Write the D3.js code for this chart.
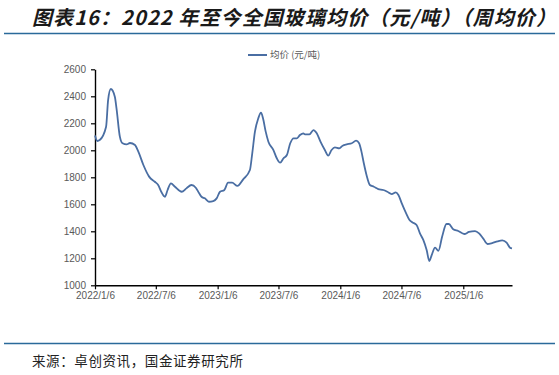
<!DOCTYPE html>
<html>
<head>
<meta charset="utf-8">
<script src="https://cdn.jsdelivr.net/npm/d3@7"></script>
<style>
  body { margin: 0; background: #fff; }
  svg { display: block; }
</style>
</head>
<body>
<div id="chartDiv"></div>
<script>
var width = 559;
var height = 375;

// weekly glass price (yuan/ton)
var dates = [
  "2022-01-06","2022-01-13","2022-01-20","2022-02-08","2022-02-14","2022-02-22","2022-03-06","2022-03-11",
  "2022-03-21","2022-03-29","2022-04-10","2022-04-20","2022-05-05","2022-05-15","2022-05-30","2022-06-16",
  "2022-07-03","2022-07-13","2022-07-23","2022-08-02","2022-08-10","2022-08-20","2022-09-01","2022-09-21",
  "2022-10-05","2022-10-20","2022-11-02","2022-11-12","2022-11-19","2022-11-29","2022-12-11","2022-12-24",
  "2023-01-03","2023-01-13","2023-01-26","2023-02-06","2023-02-18","2023-03-06","2023-03-23","2023-04-12",
  "2023-04-19","2023-04-27","2023-05-07","2023-05-15","2023-05-21","2023-05-29","2023-06-06","2023-06-21",
  "2023-07-01","2023-07-11","2023-07-21","2023-07-31","2023-08-10","2023-08-20","2023-08-30","2023-09-08",
  "2023-09-18","2023-09-23","2023-10-06","2023-10-18","2023-10-28","2023-11-08","2023-11-21","2023-12-01",
  "2023-12-11","2023-12-21","2024-01-03","2024-01-13","2024-01-25","2024-02-09","2024-02-22","2024-03-02",
  "2024-03-09","2024-03-16","2024-03-24","2024-04-03","2024-04-15","2024-04-28","2024-05-13","2024-05-25",
  "2024-06-07","2024-06-19","2024-06-27","2024-07-07","2024-07-20","2024-07-30","2024-08-07","2024-08-20",
  "2024-08-30","2024-09-09","2024-09-19","2024-09-27","2024-10-04","2024-10-14","2024-10-24","2024-11-04",
  "2024-11-17","2024-11-24","2024-12-07","2024-12-22","2025-01-09","2025-01-23","2025-02-10","2025-02-22",
  "2025-03-06","2025-03-19","2025-04-02","2025-04-18","2025-05-02","2025-05-15","2025-05-25","2025-05-31"
];
var prices = [
  2110,2069,2076,2175,2372,2454,2397,2311,
  2101,2052,2044,2054,2039,1990,1891,1805,
  1767,1743,1689,1656,1706,1755,1730,1693,
  1718,1743,1723,1681,1656,1644,1619,1624,
  1644,1693,1706,1760,1760,1736,1785,1854,
  1978,2138,2237,2279,2237,2138,2064,2002,
  1941,1908,1941,1965,2052,2089,2089,2113,
  2126,2118,2118,2150,2126,2064,2002,1960,
  2002,2022,2015,2034,2044,2052,2071,2052,
  1990,1904,1817,1743,1730,1713,1706,1693,
  1676,1689,1669,1607,1533,1484,1467,1447,
  1385,1336,1261,1180,1224,1279,1256,1360,
  1454,1454,1415,1402,1380,1395,1402,1385,
  1348,1306,1313,1326,1333,1316,1279,1274
];
var xTicks = ["2022-01-06","2022-07-06","2023-01-06","2023-07-06","2024-01-06","2024-07-06","2025-01-06"];
var yTicks = [1000,1200,1400,1600,1800,2000,2200,2400,2600];

var titleText = "图表16：2022 年至今全国玻璃均价（元/吨）（周均价）";
var legendText = "均价 (元/吨)";
var sourceText = "来源：卓创资讯，国金证券研究所";

var parse = d3.timeParse("%Y-%m-%d");
var fmt = d3.timeFormat("%Y/%-m/%-d");
var data = dates.map((d, i) => ({date: parse(d), value: prices[i]}));

var lineColor = "#4a6ea3";
var ruleColor = "#2a6a9a";
var tickColor = "#595959";

var svg = d3.select("#chartDiv")
  .append("svg")
    .attr("width", width)
    .attr("height", height)
    .attr("viewBox", [0, 0, width, height]);

svg.append("rect").attr("width", width).attr("height", height).attr("fill", "#fff");

// title + rules
svg.append("text")
    .attr("x", 32)
    .attr("y", 25)
    .attr("font-family", "'Noto Sans CJK SC', sans-serif")
    .attr("font-size", 20)
    .attr("letter-spacing", 1.1)
    .attr("font-weight", "bold")
    .attr("font-style", "italic")
    .attr("fill", "#1a1a1a")
    .text(titleText);

svg.append("line")
    .attr("x1", 4).attr("x2", 555)
    .attr("y1", 33.5).attr("y2", 33.5)
    .attr("stroke", ruleColor).attr("stroke-width", 1.5);

svg.append("line")
    .attr("x1", 4).attr("x2", 555)
    .attr("y1", 343.5).attr("y2", 343.5)
    .attr("stroke", ruleColor).attr("stroke-width", 1.5);

svg.append("text")
    .attr("x", 32)
    .attr("y", 366)
    .attr("font-family", "'Noto Sans CJK SC', serif")
    .attr("font-size", 13.5)
    .attr("letter-spacing", 0.6)
    .attr("fill", "#222")
    .text(sourceText);

// scales
var x = d3.scaleTime()
    .domain([parse("2022-01-06"), d3.max(data, d => d.date)])
    .range([95, 512]);

var y = d3.scaleLinear()
    .domain([1000, 2600])
    .range([285.3, 69.3]);

var xAxis = svg.append("g")
    .attr("transform", `translate(0,${y(1000)})`)
    .call(d3.axisBottom(x)
      .tickValues(xTicks.map(parse))
      .tickFormat(fmt)
      .tickSize(4)
      .tickSizeOuter(0)
      .tickPadding(3));

var yAxis = svg.append("g")
    .attr("transform", `translate(${x.range()[0]},0)`)
    .call(d3.axisLeft(y)
      .tickValues(yTicks)
      .tickFormat(d3.format("d"))
      .tickSize(4)
      .tickSizeOuter(0)
      .tickPadding(5));

[xAxis, yAxis].forEach(g => {
  g.select(".domain").attr("stroke", "#000").attr("stroke-width", 1.4);
  g.selectAll(".tick line").attr("stroke", "#000").attr("stroke-width", 1.2);
  g.selectAll(".tick text")
    .attr("fill", tickColor)
    .attr("font-family", "'Liberation Sans', Arial, sans-serif")
    .attr("font-size", 10);
});

// line
var line = d3.line()
    .x(d => x(d.date))
    .y(d => y(d.value))
    .curve(d3.curveMonotoneX);

svg.append("path")
    .datum(data)
    .attr("fill", "none")
    .attr("stroke", lineColor)
    .attr("stroke-width", 1.8)
    .attr("stroke-linejoin", "round")
    .attr("d", line);

// legend
var legend = svg.append("g").attr("transform", "translate(248,55)");
legend.append("line")
    .attr("x1", 0).attr("x2", 19)
    .attr("stroke", lineColor).attr("stroke-width", 2);
legend.append("text")
    .attr("x", 22)
    .attr("dy", "0.35em")
    .attr("font-family", "'Noto Sans CJK SC', sans-serif")
    .attr("font-size", 9.5)
    .attr("fill", tickColor)
    .text(legendText);
</script>
</body>
</html>
